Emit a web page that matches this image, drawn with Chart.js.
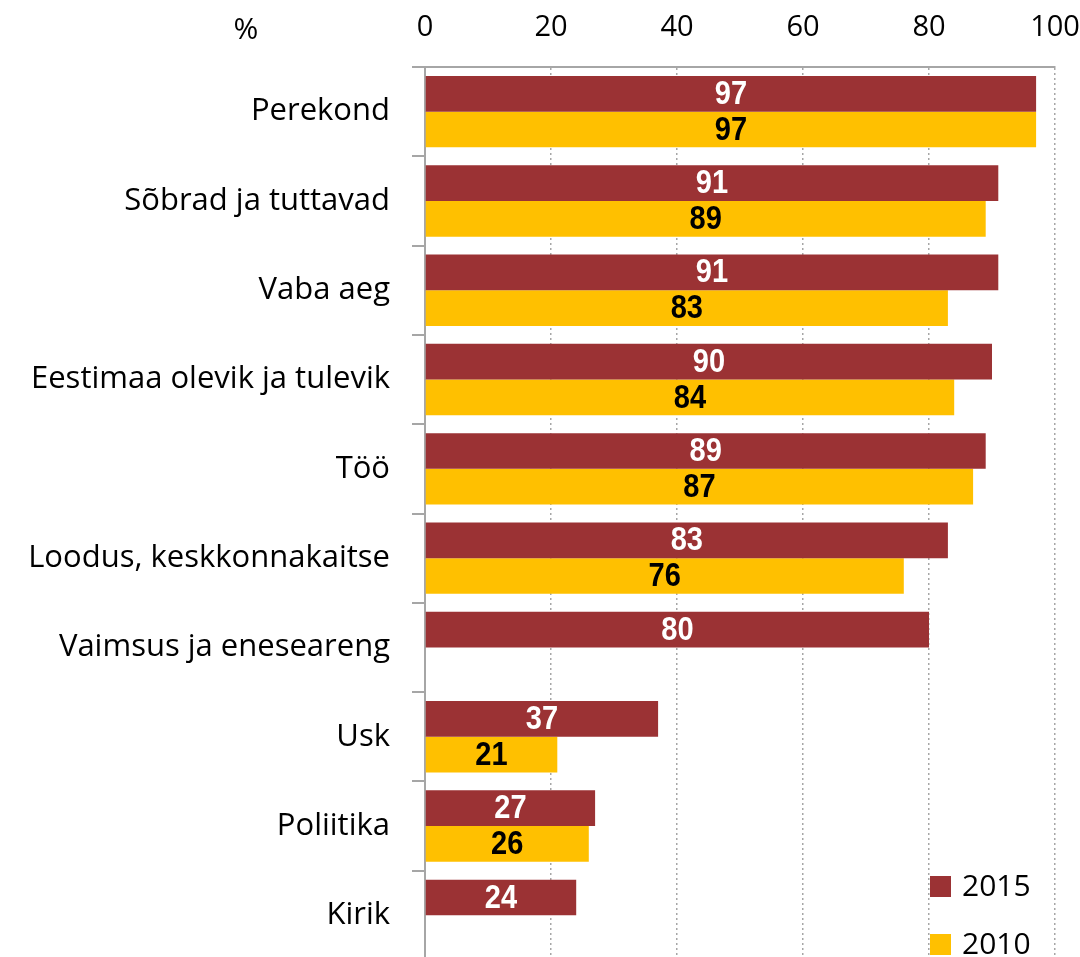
<!DOCTYPE html>
<html>
<head>
<meta charset="utf-8">
<script src="https://cdn.jsdelivr.net/npm/chart.js@4"></script>
<style>
html,body{margin:0;padding:0;background:#fff;overflow:hidden}
canvas{display:block}
</style>
</head>
<body>
<canvas id="c" width="1080" height="960"></canvas>
<script>
// kategooriad ja väärtused
const categories = ["Perekond","Sõbrad ja tuttavad","Vaba aeg","Eestimaa olevik ja tulevik","Töö","Loodus, keskkonnakaitse","Vaimsus ja eneseareng","Usk","Poliitika","Kirik"]
const values2015 = [97,91,91,90,89,83,80,37,27,24]
const values2010 = [97,89,83,84,87,76,null,21,26,null]
const seriesNames = ["2015","2010"]
const xTicks = [0,20,40,60,80,100]

const RED = "#9B3234"
const YELLOW = "#FFC000"
const GRID = "#A6A6A6"
const LABELFONT = "'Open Sans', Lato, sans-serif"

const barLabels = {
id:"barLabels",
afterDatasetsDraw(chart){
const ctx = chart.ctx
ctx.save()
ctx.font = "bold 33px 'Liberation Sans', Arial, sans-serif"
ctx.textAlign = "center"
ctx.textBaseline = "middle"
chart.data.datasets.forEach((ds,i)=>{
const meta = chart.getDatasetMeta(i)
meta.data.forEach((bar,j)=>{
const v = ds.data[j]
if(v==null) return
ctx.fillStyle = i==0 ? "#fff" : "#000"
ctx.save()
ctx.translate((bar.x+bar.base)/2,bar.y+1)
ctx.scale(0.88,1)
ctx.fillText(v,0,0)
ctx.restore()
})
})
ctx.restore()
}
}

const extras = {
id:"extras",
afterDraw(chart){
const ctx = chart.ctx
ctx.save()
ctx.font = "30px "+LABELFONT
ctx.fillStyle = "#000"
ctx.textBaseline = "middle"
ctx.textAlign = "center"
ctx.fillText("%",246,30)
// legend
const colors = [RED,YELLOW]
const ys = [887,945]
ctx.textAlign = "left"
seriesNames.forEach((n,i)=>{
ctx.fillStyle = colors[i]
ctx.fillRect(930,ys[i]-11,21,21)
ctx.fillStyle = "#000"
ctx.fillText(n,962,ys[i])
})
ctx.restore()
}
}

function noPad(s){
s.paddingLeft = 0
s.paddingRight = 0
s.paddingTop = 0
s.paddingBottom = 0
}

new Chart(document.getElementById("c"),{
type:"bar",
data:{
labels:categories,
datasets:[
{label:seriesNames[0],data:values2015,backgroundColor:RED},
{label:seriesNames[1],data:values2010,backgroundColor:YELLOW}
]
},
options:{
indexAxis:"y",
responsive:false,
animation:false,
layout:{padding:{left:0,right:25,top:0,bottom:0}},
categoryPercentage:0.8,
barPercentage:1.0,
plugins:{legend:{display:false},tooltip:{enabled:false}},
scales:{
x:{
position:"top",
min:0,max:100,
afterBuildTicks(s){s.ticks = xTicks.map(v=>({value:v}))},
afterFit(s){s.height = 67; noPad(s)},
ticks:{font:{family:LABELFONT,size:29},color:"#000",padding:22},
grid:{color:c=>c.tick && c.tick.value==0 ? "rgba(0,0,0,0)" : GRID,lineWidth:1.5,drawTicks:false},
border:{color:GRID,width:2,dash:[2,3]}
},
y:{
afterFit(s){s.width = 425; noPad(s)},
ticks:{font:{family:LABELFONT,size:31},color:"#000",padding:22},
grid:{offset:true,drawOnChartArea:false,tickLength:13,color:GRID,lineWidth:2},
border:{color:GRID,width:2}
}
}
},
plugins:[barLabels,extras]
})
</script>
</body>
</html>
